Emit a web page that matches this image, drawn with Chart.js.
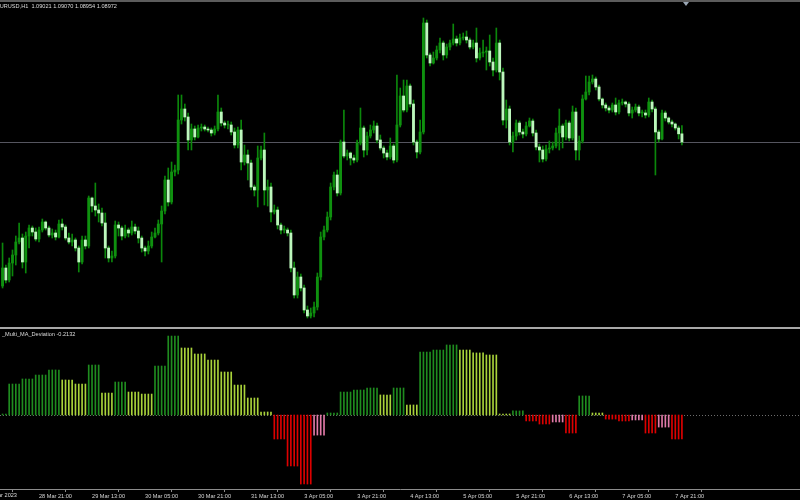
<!DOCTYPE html>
<html>
<head>
<meta charset="utf-8">
<script src="https://cdn.jsdelivr.net/npm/chart.js@4.4.0/dist/chart.umd.min.js"></script>
<style>
  html, body { margin: 0; padding: 0; background: #000; }
  #wrap { position: relative; width: 800px; height: 500px; overflow: hidden; background: #000;
          font-family: "Liberation Sans", Arial, sans-serif; }
  #priceChart { position: absolute; left: 0; top: 0; }
  #devChart { position: absolute; left: 0; top: 330px; }
  .txt { position: absolute; color: #dcdcdc; font-size: 5.6px; line-height: 1; white-space: pre; }
  #topLine { position: absolute; left: 0; top: 0; width: 800px; height: 2px; background: #5c5c5c; }
  #sepLine { position: absolute; left: 0; top: 327px; width: 800px; height: 2px; background: #a8a8a8; }
  #shiftMark { position: absolute; left: 683px; top: 2px; width: 0; height: 0;
               border-left: 3px solid transparent; border-right: 3px solid transparent; border-top: 4px solid #9aa6b4; }
</style>
</head>
<body>
<div id="wrap">
  <canvas id="priceChart" width="800" height="327"></canvas>
  <canvas id="devChart" width="800" height="170"></canvas>
  <div id="topLine"></div>
  <div id="sepLine"></div>
  <div id="shiftMark"></div>
  <div class="txt" id="title" style="left:-4px; top:4px;"></div>
  <div class="txt" id="devTitle" style="left:2px; top:332px;"></div>
  <div class="txt" id="firstDate" style="right:783px; top:493px;">28 Mar 2023</div>
</div>
<script>
// EURUSD H1, 28 Mar 2023 10:00 .. 7 Apr 2023 23:00 (one entry per bar)
const firstOpen = 1.08108;

const closes = [
  1.08216, 1.08144, 1.08246, 1.08294, 1.08372, 1.08396, 1.08252, 1.08408, 1.08456, 1.08432,
  1.08390, 1.08444, 1.08492, 1.08456, 1.08414, 1.08426, 1.08402, 1.08480, 1.08462, 1.08396,
  1.08372, 1.08384, 1.08336, 1.08252, 1.08384, 1.08348, 1.08636, 1.08588, 1.08564, 1.08546,
  1.08486, 1.08336, 1.08276, 1.08288, 1.08474, 1.08456, 1.08408, 1.08444, 1.08426, 1.08462,
  1.08438, 1.08396, 1.08336, 1.08318, 1.08348, 1.08402, 1.08426, 1.08480, 1.08558, 1.08744,
  1.08612, 1.08792, 1.08804, 1.09104, 1.09170, 1.09122, 1.08984, 1.09050, 1.09002, 1.09056,
  1.09062, 1.09050, 1.09044, 1.09026, 1.09050, 1.09152, 1.09086, 1.09074, 1.09074, 1.09032,
  1.08954, 1.09044, 1.08852, 1.08894, 1.08846, 1.08702, 1.08684, 1.08876, 1.08924, 1.08684,
  1.08702, 1.08552, 1.08564, 1.08474, 1.08444, 1.08444, 1.08426, 1.08216, 1.08054, 1.08162,
  1.08096, 1.07964, 1.07928, 1.07946, 1.07982, 1.08162, 1.08402, 1.08444, 1.08522, 1.08702,
  1.08774, 1.08666, 1.08972, 1.08888, 1.08906, 1.08876, 1.08864, 1.08966, 1.09056, 1.08924,
  1.09008, 1.09044, 1.09068, 1.08984, 1.08936, 1.08906, 1.08882, 1.08948, 1.08864, 1.09074,
  1.09248, 1.09164, 1.09308, 1.09200, 1.08972, 1.08912, 1.09032, 1.09686, 1.09494, 1.09446,
  1.09476, 1.09524, 1.09566, 1.09494, 1.09542, 1.09566, 1.09590, 1.09566, 1.09596, 1.09602,
  1.09584, 1.09542, 1.09566, 1.09476, 1.09506, 1.09512, 1.09518, 1.09452, 1.09404, 1.09566,
  1.09392, 1.09104, 1.09170, 1.08972, 1.09008, 1.09086, 1.09032, 1.09020, 1.09068, 1.09098,
  1.09026, 1.08942, 1.08924, 1.08870, 1.08930, 1.08936, 1.08948, 1.09026, 1.09068, 1.09002,
  1.09086, 1.08996, 1.09152, 1.08924, 1.08978, 1.09230, 1.09272, 1.09332, 1.09350, 1.09302,
  1.09230, 1.09194, 1.09176, 1.09164, 1.09194, 1.09152, 1.09206, 1.09212, 1.09200, 1.09146,
  1.09164, 1.09182, 1.09146, 1.09146, 1.09134, 1.09212, 1.09170, 1.09032, 1.08990, 1.09146,
  1.09116, 1.09092, 1.09080, 1.09056, 1.09021, 1.08972
];

const highs = [
  1.08366, 1.08234, 1.08276, 1.08324, 1.08408, 1.08486, 1.08420, 1.08432, 1.08474, 1.08468,
  1.08456, 1.08462, 1.08510, 1.08498, 1.08468, 1.08450, 1.08444, 1.08504, 1.08510, 1.08474,
  1.08426, 1.08420, 1.08396, 1.08348, 1.08408, 1.08408, 1.08648, 1.08642, 1.08726, 1.08600,
  1.08576, 1.08546, 1.08348, 1.08318, 1.08498, 1.08492, 1.08468, 1.08474, 1.08456, 1.08498,
  1.08480, 1.08462, 1.08408, 1.08348, 1.08378, 1.08432, 1.08456, 1.08504, 1.08588, 1.08768,
  1.08816, 1.08852, 1.08834, 1.09254, 1.09254, 1.09200, 1.09146, 1.09080, 1.09068, 1.09074,
  1.09080, 1.09074, 1.09062, 1.09056, 1.09068, 1.09254, 1.09176, 1.09098, 1.09098, 1.09092,
  1.09056, 1.09062, 1.09104, 1.08954, 1.08924, 1.08864, 1.08714, 1.08948, 1.08948, 1.09026,
  1.08744, 1.08726, 1.08594, 1.08582, 1.08486, 1.08468, 1.08456, 1.08444, 1.08252, 1.08192,
  1.08180, 1.08114, 1.07988, 1.07976, 1.08012, 1.08186, 1.08432, 1.08468, 1.08552, 1.08726,
  1.08792, 1.08804, 1.08984, 1.09164, 1.08924, 1.08912, 1.08894, 1.08984, 1.09176, 1.09068,
  1.09032, 1.09074, 1.09098, 1.09086, 1.09014, 1.08948, 1.08924, 1.08996, 1.08960, 1.09374,
  1.09296, 1.09344, 1.09344, 1.09320, 1.09224, 1.08984, 1.09104, 1.09716, 1.09704, 1.09506,
  1.09512, 1.09548, 1.09596, 1.09578, 1.09560, 1.09584, 1.09680, 1.09608, 1.09620, 1.09626,
  1.09638, 1.09596, 1.09584, 1.09656, 1.09536, 1.09584, 1.09542, 1.09614, 1.09476, 1.09656,
  1.09584, 1.09416, 1.09224, 1.09188, 1.09032, 1.09104, 1.09098, 1.09050, 1.09092, 1.09116,
  1.09110, 1.09044, 1.08960, 1.08948, 1.08954, 1.08978, 1.08972, 1.09056, 1.09170, 1.09080,
  1.09104, 1.09098, 1.09188, 1.09176, 1.09008, 1.09254, 1.09368, 1.09368, 1.09374, 1.09362,
  1.09314, 1.09236, 1.09206, 1.09188, 1.09206, 1.09236, 1.09224, 1.09230, 1.09218, 1.09212,
  1.09182, 1.09200, 1.09194, 1.09164, 1.09164, 1.09236, 1.09224, 1.09182, 1.09044, 1.09164,
  1.09158, 1.09122, 1.09104, 1.09086, 1.09068, 1.09070
];

const lows = [
  1.08096, 1.08126, 1.08132, 1.08168, 1.08234, 1.08360, 1.08216, 1.08186, 1.08336, 1.08408,
  1.08378, 1.08372, 1.08432, 1.08444, 1.08402, 1.08396, 1.08384, 1.08396, 1.08444, 1.08384,
  1.08360, 1.08348, 1.08318, 1.08192, 1.08240, 1.08330, 1.08336, 1.08552, 1.08528, 1.08492,
  1.08468, 1.08276, 1.08252, 1.08252, 1.08276, 1.08408, 1.08384, 1.08396, 1.08402, 1.08414,
  1.08420, 1.08366, 1.08312, 1.08288, 1.08300, 1.08336, 1.08396, 1.08414, 1.08252, 1.08540,
  1.08588, 1.08600, 1.08768, 1.08780, 1.09080, 1.09098, 1.08924, 1.08924, 1.08984, 1.08996,
  1.09038, 1.09038, 1.09032, 1.09008, 1.09014, 1.09038, 1.09068, 1.09056, 1.09050, 1.09014,
  1.08936, 1.08936, 1.08804, 1.08834, 1.08744, 1.08684, 1.08648, 1.08582, 1.08864, 1.08594,
  1.08588, 1.08492, 1.08540, 1.08450, 1.08420, 1.08426, 1.08408, 1.08192, 1.08036, 1.08036,
  1.08078, 1.07946, 1.07916, 1.07916, 1.07922, 1.07964, 1.08144, 1.08384, 1.08432, 1.08504,
  1.08684, 1.08648, 1.08654, 1.08876, 1.08864, 1.08834, 1.08846, 1.08852, 1.08954, 1.08882,
  1.08894, 1.08996, 1.09026, 1.08966, 1.08924, 1.08876, 1.08864, 1.08870, 1.08846, 1.08852,
  1.09062, 1.09152, 1.09152, 1.09182, 1.08954, 1.08876, 1.08900, 1.09020, 1.09476, 1.09428,
  1.09440, 1.09464, 1.09506, 1.09464, 1.09476, 1.09524, 1.09554, 1.09548, 1.09554, 1.09584,
  1.09566, 1.09530, 1.09530, 1.09452, 1.09464, 1.09482, 1.09404, 1.09428, 1.09368, 1.09392,
  1.09344, 1.09074, 1.09056, 1.08954, 1.08912, 1.08984, 1.09014, 1.08996, 1.09008, 1.09062,
  1.09008, 1.08924, 1.08852, 1.08852, 1.08858, 1.08906, 1.08924, 1.08936, 1.08924, 1.08936,
  1.08984, 1.08978, 1.08984, 1.08864, 1.08864, 1.08966, 1.09224, 1.09254, 1.09320, 1.09284,
  1.09218, 1.09176, 1.09158, 1.09146, 1.09152, 1.09134, 1.09140, 1.09194, 1.09182, 1.09128,
  1.09116, 1.09152, 1.09128, 1.09122, 1.09116, 1.09122, 1.09152, 1.08774, 1.08972, 1.08984,
  1.09098, 1.09080, 1.09062, 1.09044, 1.08990, 1.08954
];

// Multi_MA_Deviation histogram (H4 steps repeated over the H1 bars)
const deviation = [
  0.009, 0.009,
  0.275, 0.275, 0.275, 0.275,  0.320, 0.320, 0.320, 0.320,  0.355, 0.355, 0.355, 0.355,
  0.400, 0.400, 0.400, 0.400,  0.311, 0.311, 0.311, 0.311,  0.275, 0.275, 0.275, 0.275,
  0.444, 0.444, 0.444, 0.444,  0.195, 0.195, 0.195, 0.195,  0.293, 0.293, 0.293, 0.293,
  0.204, 0.204, 0.204, 0.204,  0.186, 0.186, 0.186, 0.186,  0.435, 0.435, 0.435, 0.435,
  0.701, 0.701, 0.701, 0.701,  0.595, 0.595, 0.595, 0.595,  0.542, 0.542, 0.542, 0.542,
  0.488, 0.488, 0.488, 0.488,  0.382, 0.382, 0.382, 0.382,  0.266, 0.266, 0.266, 0.266,
  0.151, 0.151, 0.151, 0.151,  0.027, 0.027, 0.027, 0.027,  -0.213, -0.213, -0.213, -0.213,
  -0.453, -0.453, -0.453, -0.453,  -0.613, -0.613, -0.613, -0.613,  -0.178, -0.178, -0.178, -0.178,
  0.018, 0.018, 0.018, 0.018,  0.204, 0.204, 0.204, 0.204,  0.222, 0.222, 0.222, 0.222,
  0.240, 0.240, 0.240, 0.240,  0.178, 0.178, 0.178, 0.178,  0.240, 0.240, 0.240, 0.240,
  0.089, 0.089, 0.089, 0.089,  0.559, 0.559, 0.559, 0.559,  0.577, 0.577, 0.577, 0.577,
  0.622, 0.622, 0.622, 0.622,  0.577, 0.577, 0.577, 0.577,  0.551, 0.551, 0.551, 0.551,
  0.533, 0.533, 0.533, 0.533,  0.009, 0.009, 0.009, 0.009,  0.036, 0.036, 0.036, 0.036,
  -0.053, -0.053, -0.053, -0.053,  -0.080, -0.080, -0.080, -0.080,  -0.062, -0.062, -0.062, -0.062,
  -0.160, -0.160, -0.160, -0.160,  0.169, 0.169, 0.169, 0.169,  0.018, 0.018, 0.018, 0.018,
  -0.036, -0.036, -0.036, -0.036,  -0.053, -0.053, -0.053, -0.053,  -0.044, -0.044, -0.044, -0.044,
  -0.160, -0.160, -0.160, -0.160,  -0.107, -0.107, -0.107, -0.107,  -0.2132, -0.2132, -0.2132, -0.2132
];

const tickBars = [11, 27, 43, 59, 75, 91, 107, 123, 139, 155, 171, 187, 203];
const tickLabels = ["28 Mar 21:00", "29 Mar 13:00", "30 Mar 05:00", "30 Mar 21:00", "31 Mar 13:00",
  "3 Apr 05:00", "3 Apr 21:00", "4 Apr 13:00", "5 Apr 05:00", "5 Apr 21:00",
  "6 Apr 13:00", "7 Apr 05:00", "7 Apr 21:00"];

// visible bar window (empty shift area on the right)
const xMin = -0.77;
const xMax = 240.63;

const opens = closes.map((c, i) => i === 0 ? firstOpen : closes[i - 1]);
const last = closes.length - 1;

document.getElementById("title").textContent =
  "EURUSD,H1  " + [opens[last], highs[last], lows[last], closes[last]].map(v => v.toFixed(5)).join(" ");
document.getElementById("devTitle").textContent =
  "_Multi_MA_Deviation " + deviation[last].toFixed(4);

const bullColor = "#0f910f";
const bearColor = "#bcf7bc";
const wickColor = "#0b870b";

// bid line on the price chart
const bidLine = {
  id: "bidLine",
  beforeDatasetsDraw(chart) {
    const { ctx, chartArea, scales } = chart;
    const y = Math.round(scales.y.getPixelForValue(closes[last])) + 0.5;
    ctx.save();
    ctx.strokeStyle = "#55555f";
    ctx.lineWidth = 1;
    ctx.beginPath();
    ctx.moveTo(chartArea.left, y);
    ctx.lineTo(chartArea.right, y);
    ctx.stroke();
    ctx.restore();
  }
};

// dotted zero level in the indicator window
const zeroLine = {
  id: "zeroLine",
  beforeDatasetsDraw(chart) {
    const { ctx, chartArea, scales } = chart;
    const y = Math.round(scales.y.getPixelForValue(0)) + 0.5;
    ctx.save();
    ctx.strokeStyle = "#6c6c6c";
    ctx.lineWidth = 1;
    ctx.setLineDash([1, 2]);
    ctx.beginPath();
    ctx.moveTo(chartArea.left, y);
    ctx.lineTo(chartArea.right, y);
    ctx.stroke();
    ctx.restore();
  }
};

const commonOpts = {
  responsive: false,
  animation: false,
  devicePixelRatio: 1,
  events: [],
  layout: { padding: 0 },
  plugins: { legend: { display: false }, tooltip: { enabled: false } }
};

new Chart(document.getElementById("priceChart"), {
  type: "bar",
  data: {
    datasets: [
      {
        label: "wicks",
        data: closes.map((c, i) => ({ x: i, y: [lows[i], highs[i]] })),
        backgroundColor: wickColor,
        barThickness: 1,
        grouped: false,
        order: 2
      },
      {
        label: "bodies",
        data: closes.map((c, i) => ({ x: i, y: [opens[i], c] })),
        backgroundColor: closes.map((c, i) => c < opens[i] ? bearColor : bullColor),
        barThickness: 2.2,
        minBarLength: 1,
        grouped: false,
        order: 1
      }
    ]
  },
  options: {
    ...commonOpts,
    scales: {
      x: { type: "linear", offset: false, min: xMin, max: xMax, display: false },
      y: { min: 1.07862, max: 1.09824, display: false }
    }
  },
  plugins: [bidLine]
});

const devColors = deviation.map((v, i) => {
  let j = i - 1;
  while (j >= 0 && deviation[j] === v) j--;
  const prev = j >= 0 ? deviation[j] : 0;
  if (v >= 0) return v >= prev ? "#1f8c1f" : "#a9d33a";
  return v <= prev ? "#dd0000" : "#e27aa8";
});

new Chart(document.getElementById("devChart"), {
  type: "bar",
  data: {
    datasets: [{
      label: "Multi_MA_Deviation",
      data: deviation.map((v, i) => ({ x: i, y: v })),
      backgroundColor: devColors,
      barThickness: 1,
      grouped: false
    }]
  },
  options: {
    ...commonOpts,
    scales: {
      x: {
        type: "linear", offset: false, min: xMin, max: xMax,
        afterBuildTicks: s => { s.ticks = tickBars.map(v => ({ value: v })); },
        afterFit: s => { s.height = 11; },
        ticks: {
          autoSkip: false, maxRotation: 0, minRotation: 0, align: "start", padding: 1,
          color: "#d6d6d6", font: { family: "Liberation Sans", size: 5.6 },
          callback: v => { const k = tickBars.indexOf(v); return k >= 0 ? tickLabels[k] : ""; }
        },
        grid: { drawOnChartArea: false, drawTicks: true, tickLength: 3, color: "#8c8c8c" },
        border: { display: true, color: "#8c8c8c" }
      },
      y: { min: -0.657, max: 0.7548, display: false }
    }
  },
  plugins: [zeroLine]
});
</script>
</body>
</html>
